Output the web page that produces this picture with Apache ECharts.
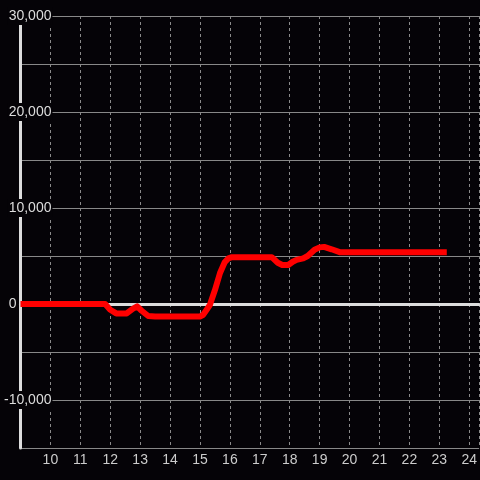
<!DOCTYPE html>
<html>
<head>
<meta charset="utf-8">
<script src="https://cdn.jsdelivr.net/npm/echarts@6/dist/echarts.min.js"></script>
<style>
  html, body { margin: 0; padding: 0; background: #050307; }
  #chart { width: 480px; height: 480px; }
</style>
</head>
<body>
<div id="chart"></div>
<script>
// hour of day, and the running value at that hour
const hours = [9, 11.83, 12.0, 12.2, 12.55, 12.75, 12.9, 13.05, 13.27, 13.5, 15.0, 15.1, 15.2, 15.33, 15.5, 15.67, 15.83, 15.95, 16.07, 17.4, 17.6, 17.75, 17.95, 18.1, 18.23, 18.45, 18.6, 18.83, 19.0, 19.15, 19.4, 19.67, 23.25];
const values = [0, 0, -600, -980, -980, -500, -250, -700, -1250, -1300, -1300, -1150, -700, -100, 1450, 3230, 4370, 4750, 4880, 4880, 4300, 4060, 4060, 4400, 4600, 4750, 5000, 5650, 5900, 5950, 5700, 5400, 5400];

const xMin = 9;
const xMax = 24.33;
const yMin = -15000;
const yMax = 30000;

const bg = '#050307';

const chart = echarts.init(document.getElementById('chart'));

const lineData = hours.map((h, i) => [h, values[i]]);

const option = {
  backgroundColor: bg,
  animation: false,
  textStyle: { fontFamily: 'Liberation Sans' },
  grid: { left: 20, right: 0, top: 16, bottom: 32 },
  xAxis: [{
    type: 'value',
    min: xMin,
    max: xMax,
    interval: 1,
    axisLine: { show: false, onZero: false },
    axisTick: { show: false },
    axisLabel: {
      color: '#cccccc',
      fontSize: 14,
      margin: 5,
      showMinLabel: false,
      showMaxLabel: false
    },
    splitLine: {
      show: true,
      lineStyle: { color: '#8a8a8a', width: 1, type: [3, 3] }
    }
  }, {
    // zero line
    type: 'value',
    min: xMin,
    max: xMax,
    position: 'bottom',
    axisLine: { show: true, onZero: true, onZeroAxisIndex: 0, lineStyle: { color: '#dddddd', width: 3 } },
    axisTick: { show: false },
    axisLabel: { show: false },
    splitLine: { show: false }
  }],
  yAxis: {
    type: 'value',
    min: yMin,
    max: yMax,
    interval: 5000,
    axisLine: { show: true, lineStyle: { color: '#dddddd', width: 3 } },
    axisTick: { show: false },
    axisLabel: {
      align: 'right',
      margin: -32,
      fontSize: 14,
      color: '#dddddd',
      formatter: function (v) {
        if (v % 10000 !== 0) return '';
        if (v === 0) return '{z|0}';
        return '{a|' + echarts.format.addCommas(v) + '}';
      },
      rich: {
        a: { backgroundColor: bg, padding: [2, 1, 2, 1], fontSize: 14, color: '#dddddd' },
        z: { padding: [0, 36, 0, 0], fontSize: 14, color: '#dddddd' }
      }
    },
    splitLine: {
      show: true,
      lineStyle: { color: '#888888', width: 1 }
    }
  },
  series: [{
    type: 'line',
    data: lineData,
    showSymbol: false,
    smooth: false,
    lineStyle: { color: '#ff0000', width: 6, join: 'round' },
    z: 5
  }]
};

chart.setOption(option);
</script>
</body>
</html>
